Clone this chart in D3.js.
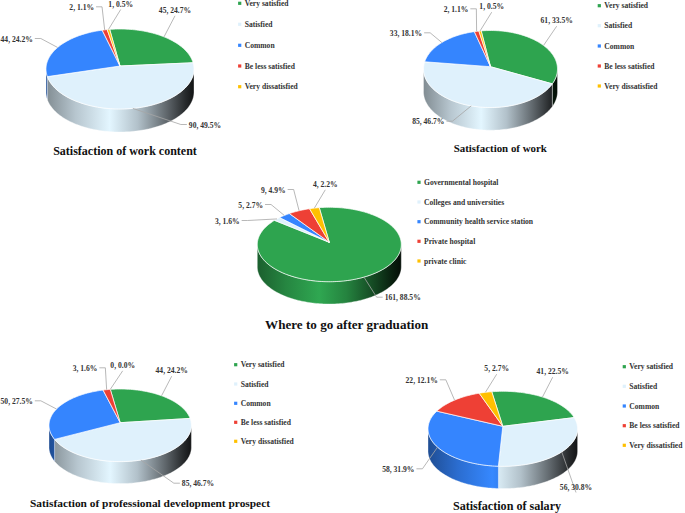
<!DOCTYPE html>
<html><head><meta charset="utf-8">
<script src="https://cdnjs.cloudflare.com/ajax/libs/d3/7.8.5/d3.min.js"></script>
<style>html,body{margin:0;padding:0;background:#fff}svg{display:block}</style>
</head><body><svg id="c" width="685" height="513"></svg>
<script>
// ---- data ----
const satisfactionCategories = ["Very satisfied","Satisfied","Common","Be less satisfied","Very dissatisfied"];
const destinationCategories = ["Governmental hospital","Colleges and universities","Community health service station","Private hospital","private clinic"];
const workContentValues = [45,90,44,2,1];
const workValues = [61,85,33,2,1];
const destinationValues = [161,3,5,9,4];
const prospectValues = [44,85,50,3,0];
const salaryValues = [41,56,58,22,5];
const chartTitles = ["Satisfaction of work content","Satisfaction of work","Where to go after graduation","Satisfaction of professional development prospect","Satisfaction of salary"];
const sliceColors = ["#2ea44f","#dff1fc","#3585fe","#ee4035","#ffc000"];

// ---- layout ----
const layouts = [
 {values:workContentValues,cats:satisfactionCategories,cx:120,cy:69,rx:74,ry:40,apexY:66,depth:23,start:-8,
  title:[125,150.7,12],legend:[239.7,[3.3,24.3,45.3,66,86.7]],
  labels:[[175,10.3,"v"],[205,125,"h"],[16.7,39,"h"],[81.7,7.3,"h"],[120.7,4,"v"]]},
 {values:workValues,cats:satisfactionCategories,cx:490.5,cy:69,rx:67,ry:38.5,apexY:66.7,depth:22.7,start:-8,
  title:[500.3,147.7,10.9],legend:[599.3,[5.7,25.7,46,66,86]],
  labels:[[556.7,20.7,"v"],[428.3,121.7,"h"],[406,33.3,"h"],[456,9.3,"h"],[491.7,6.7,"v"]]},
 {values:destinationValues,cats:destinationCategories,cx:329.3,cy:244.5,rx:72,ry:37.2,apexY:242.3,depth:22.3,start:-8,
  title:[346.7,324.3,13.1],legend:[419,[182.3,202,221.7,241.3,261]],
  labels:[[402.7,297.7,"h"],[227.3,221,"h"],[250.7,205,"h"],[273.3,190,"h"],[325.3,184.3,"v"]]},
 {values:prospectValues,cats:satisfactionCategories,cx:120.2,cy:425.3,rx:71.2,ry:36.3,apexY:422.7,depth:22,start:-8,
  title:[150,503,11.4],legend:[235.7,[364.7,384,403.3,422.3,441.3]],
  labels:[[171.7,370.7,"v"],[198,483.7,"h"],[16.7,401.3,"h"],[85,368.3,"h"],[122.7,365.3,"v"]]},
 {values:salaryValues,cats:satisfactionCategories,cx:502.8,cy:428.8,rx:74.8,ry:37.5,apexY:426.3,depth:22.3,start:-8.5,
  title:[507,505.7,12.1],legend:[624.3,[366.7,386.3,406,425.7,445.3]],
  labels:[[552.7,371.7,"v"],[576,487,"v"],[398.3,469.3,"h"],[421.7,380.3,"h"],[496.7,368.7,"v"]]}
];
const wallShade = [[0,.58],[.2,.82],[.43,1.02],[.62,.8],[.82,.42],[.94,.18],[1,.08]];
const FONT = '"Liberation Serif","Times New Roman",serif';
const LEADER = "#a6a6a6", TEXT = "#333333";

const svg = d3.select("#c");
const defs = svg.append("defs");
const deg = Math.PI/180;
const lineGen = d3.line();

layouts.forEach((L,ci)=>{
  const g = svg.append("g");
  const rim = (a,dy=0)=>[L.cx+L.rx*Math.sin(a), L.cy-L.ry*Math.cos(a)+dy];
  const samples = (a,b)=>{const n=Math.max(2,Math.ceil(Math.abs(b-a)/(1.5*deg)));
    return d3.range(n+1).map(i=>a+(b-a)*i/n);};
  const total = d3.sum(L.values);
  const arcs = d3.pie().sort(null).value(d=>d)
    .startAngle(L.start*deg).endAngle(L.start*deg+2*Math.PI)(L.values);

  // side wall gradients, one per colour
  sliceColors.forEach((col,i)=>{
    const lg = defs.append("linearGradient").attr("id",`w${ci}_${i}`)
      .attr("gradientUnits","userSpaceOnUse")
      .attr("x1",L.cx-L.rx).attr("x2",L.cx+L.rx).attr("y1",0).attr("y2",0);
    wallShade.forEach(([o,f])=>{
      const c = d3.rgb(col);
      const m = v=>Math.min(255,Math.round(v*f));
      lg.append("stop").attr("offset",o).attr("stop-color",d3.rgb(m(c.r),m(c.g),m(c.b)).formatHex());
    });
  });

  // walls (front half only)
  arcs.forEach((d,i)=>{
    const a = Math.max(d.startAngle,90*deg), b = Math.min(d.endAngle,270*deg);
    if (b<=a) return;
    const top = samples(a,b).map(t=>rim(t));
    const bot = samples(a,b).reverse().map(t=>rim(t,L.depth));
    g.append("path").attr("d",lineGen(top.concat(bot))+"Z")
      .attr("fill",`url(#w${ci}_${i})`).attr("stroke","#fff").attr("stroke-width",.35);
  });

  // top faces
  arcs.forEach((d,i)=>{
    if (d.value===0) return;
    const pts = [[L.cx,L.apexY]].concat(samples(d.startAngle,d.endAngle).map(t=>rim(t)));
    g.append("path").attr("d",lineGen(pts)+"Z")
      .attr("fill",sliceColors[i]).attr("stroke","#fff").attr("stroke-width",.7).attr("stroke-linejoin","round");
  });

  // data labels and leaders
  arcs.forEach((d,i)=>{
    const [lx,ly,mode] = L.labels[i];
    const t = g.append("text").attr("x",lx).attr("y",ly).attr("text-anchor","middle")
      .attr("dominant-baseline","central").attr("font-family",FONT).attr("font-size",7.6)
      .attr("font-weight","bold").attr("fill",TEXT)
      .text(`${d.value}, ${(d.value/total*100).toFixed(1)}%`);
    const w = t.node().getComputedTextLength();
    const anchor = rim((d.startAngle+d.endAngle)/2);
    let pts;
    if (mode==="v") pts = [anchor,[lx,ly+5.5]];
    else {
      const side = anchor[0]>lx ? 1 : -1;
      const e = lx+side*(w/2+2);
      pts = [anchor,[e+side*6,ly-.5],[e,ly-.5]];
    }
    g.insert("path","text").attr("d",lineGen(pts)).attr("fill","none")
      .attr("stroke",LEADER).attr("stroke-width",.8);
  });

  // legend
  L.cats.forEach((name,i)=>{
    const y = L.legend[1][i];
    g.append("rect").attr("x",L.legend[0]-1.6).attr("y",y-1.6).attr("width",3.2).attr("height",3.2).attr("fill",sliceColors[i]);
    g.append("text").attr("x",L.legend[0]+5).attr("y",y).attr("dominant-baseline","central")
      .attr("font-family",FONT).attr("font-size",7.6).attr("font-weight","bold").attr("fill",TEXT).text(name);
  });

  // title
  g.append("text").attr("x",L.title[0]).attr("y",L.title[1]).attr("text-anchor","middle")
    .attr("dominant-baseline","central").attr("font-family",FONT).attr("font-size",L.title[2])
    .attr("font-weight","bold").attr("fill","#111").text(chartTitles[ci]);
});
</script></body></html>
